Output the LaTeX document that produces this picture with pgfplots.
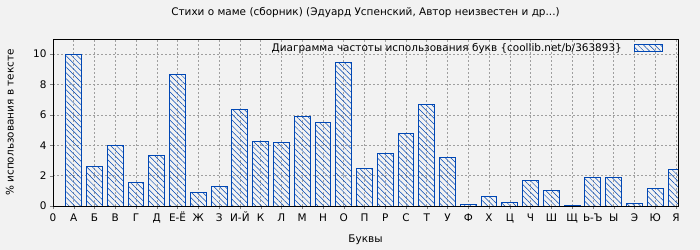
\documentclass[border=0pt]{standalone}
\usepackage{fontspec}
\setmainfont{DejaVu Sans}
\usepackage{pgfplots}
\pgfplotsset{compat=1.18}
\usetikzlibrary{patterns.meta}
\definecolor{bg}{HTML}{F2F2F2}
\definecolor{barblue}{RGB}{0,71,180}
\begin{document}
\begin{tikzpicture}
\fill[bg] (0,0) rectangle (700bp,250bp);
\path[use as bounding box] (0,0) rectangle (700bp,250bp);
\begin{axis}[
  at={(53bp,44bp)}, anchor=south west,
  scale only axis, width=625bp, height=167bp,
  xmin=0, xmax=30.1, ymin=0, ymax=11,
  ybar, bar width=0.76,
  xtick={0,...,30},
  xticklabels={0,А,Б,В,Г,Д,Е-Ё,Ж,З,И-Й,К,Л,М,Н,О,П,Р,С,Т,У,Ф,Х,Ц,Ч,Ш,Щ,Ь-Ъ,Ы,Э,Ю,Я},
  ytick={0,2,4,6,8,10},
  /pgf/number format/assume math mode=true,
  tick label style={font=\fontsize{10.5}{12}\selectfont},
  xticklabel style={text height=8bp, text depth=1bp, yshift=-1bp},
  xtick pos=bottom, ytick pos=left, tick align=outside,
  major tick length=3bp,
  grid=major,
  major grid style={gray!75, line width=0.6pt, dash pattern=on 2bp off 2bp},
  axis line style={black, line width=0.8pt},
  title={Стихи о маме (сборник) (Эдуард Успенский,  Автор неизвестен и др...)},
  title style={font=\fontsize{10.5}{12}\selectfont, at={(axis description cs:0.5,1)}, anchor=center, yshift=20bp},
  xlabel={Буквы},
  xlabel style={font=\fontsize{10.5}{12}\selectfont, at={(axis description cs:0.5,0)}, anchor=center, yshift=-34bp},
  ylabel={\% использования в тексте},
  ylabel style={font=\fontsize{10.5}{12}\selectfont, at={(axis description cs:-0.069,0.5)}, anchor=center, rotate=0},
  legend plot pos=right,
  legend style={at={(axis description cs:1,1)}, anchor=north east, draw=none, fill=none, xshift=-14bp, yshift=-1bp, font=\fontsize{10.5}{12}\selectfont, inner sep=1bp, column sep=10bp},
  legend image code/.code={\draw[#1] (0bp,-3.5bp) rectangle (28bp,3.5bp);},
  axis background/.style={fill=bg},
]
\addplot[draw=barblue, line width=1pt, pattern={Lines[angle=-45, distance=4bp, line width=0.5bp]}, pattern color=barblue] coordinates {
(1,10.0) (2,2.57) (3,4.0) (4,1.58) (5,3.3) (6,8.68) (7,0.86) (8,1.3) (9,6.38) (10,4.28)
(11,4.2) (12,5.92) (13,5.53) (14,9.47) (15,2.5) (16,3.49) (17,4.8) (18,6.7) (19,3.22) (20,0.07)
(21,0.6) (22,0.26) (23,1.71) (24,0.99) (25,0.05) (26,1.85) (27,1.85) (28,0.17) (29,1.18) (30,2.43)
};
\addlegendentry{Диаграмма частоты использования букв \{coollib.net/b/363893\}}
\end{axis}
\end{tikzpicture}
\end{document}
